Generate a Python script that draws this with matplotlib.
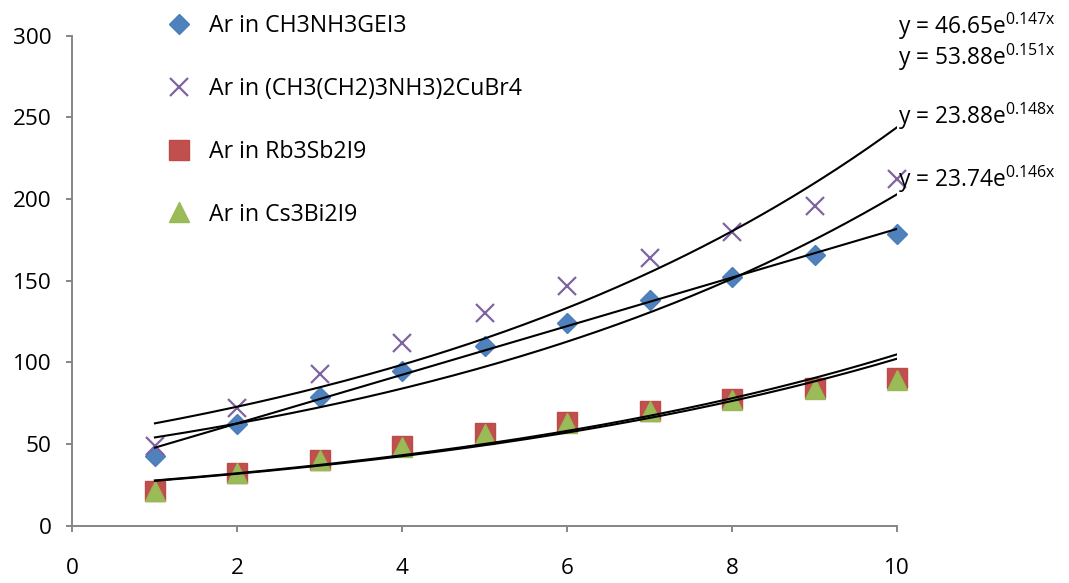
import numpy as np
import matplotlib
matplotlib.use('Agg')
import matplotlib.pyplot as plt

plt.rcParams['font.family'] = ['Open Sans', 'DejaVu Sans']
plt.rcParams['mathtext.fontset'] = 'custom'
plt.rcParams['mathtext.rm'] = 'Open Sans'

# data
x = np.arange(1, 11)
ch3nh3gei3 = [42.5, 62.5, 79, 95, 110, 124, 138, 152.5, 165.5, 178.5]
cubr4 = [48.5, 72, 93, 112, 130, 147, 164, 180, 196, 212]
rb3sb2i9 = [21, 32, 40.5, 48.5, 57, 63.5, 70.5, 77.5, 84.5, 90.5]
cs3bi2i9 = [21, 32, 40, 48, 56, 63, 70, 77, 83.5, 89]

labels = ['Ar in CH3NH3GEI3', 'Ar in (CH3(CH2)3NH3)2CuBr4',
          'Ar in Rb3Sb2I9', 'Ar in Cs3Bi2I9']

# exponential trendlines y = a*exp(b*x), as printed on the chart
exp_a = [46.65, 53.88, 23.88, 23.74]
exp_b = [0.147, 0.151, 0.148, 0.146]
eq_y = [300.9, 282.1, 245.8, 207.6]   # label baselines (data units)

fig = plt.figure(figsize=(10.69, 5.83), dpi=100)
ax = fig.add_axes([0.0678, 0.0983, 0.7713, 0.8405])

ax.plot(x, ch3nh3gei3, 'D', color='#4F81BD', mec='#4A7EBB', ms=9.7, label=labels[0], clip_on=False, zorder=3)
ax.plot(x, cubr4, 'x', color='#8064A2', ms=13.5, mew=1.6, label=labels[1], clip_on=False, zorder=3)
ax.plot(x, rb3sb2i9, 's', color='#C0504D', mec='#BE4B48', ms=14, label=labels[2], clip_on=False, zorder=3)
ax.plot(x, cs3bi2i9, '^', color='#9BBB59', mec='#98B954', ms=14, label=labels[3], clip_on=False, zorder=3)

# trendlines
xs = np.linspace(1, 10, 200)
for a, b in zip(exp_a, exp_b):
    ax.plot(xs, a * np.exp(b * xs), color='black', lw=1.5, zorder=4)
# linear trendline on the first series
k, c = np.polyfit(x, ch3nh3gei3, 1)
ax.plot(xs, k * xs + c, color='black', lw=1.5, zorder=4)

for a, b, yy in zip(exp_a, exp_b, eq_y):
    ax.text(10.01, yy, f'y = {a:.2f}e' + r'$^{\mathrm{' + f'{b:.3f}x' + r'}}$',
            fontsize=16.4, va='baseline', ha='left', clip_on=False)

ax.set_xlim(0, 10)
ax.set_ylim(0, 300)
ax.set_xticks(range(0, 11, 2))
ax.set_yticks(range(0, 301, 50))
for s in ['top', 'right']:
    ax.spines[s].set_visible(False)
for s in ['left', 'bottom']:
    ax.spines[s].set_color('#868686')
    ax.spines[s].set_linewidth(1.4)
ax.tick_params(axis='both', direction='out', length=4, width=1.4, color='#868686',
               labelsize=16.2, labelcolor='black')
ax.tick_params(axis='x', pad=19)
ax.tick_params(axis='y', pad=11)

fig.legend(loc='upper left', bbox_to_anchor=(167 / 1069, 1 - 13.7 / 583),
           frameon=False, fontsize=16.7, handlelength=1.0, handletextpad=0.81,
           labelspacing=1.68, borderpad=0, borderaxespad=0)

fig.savefig('out.png', dpi=100)
